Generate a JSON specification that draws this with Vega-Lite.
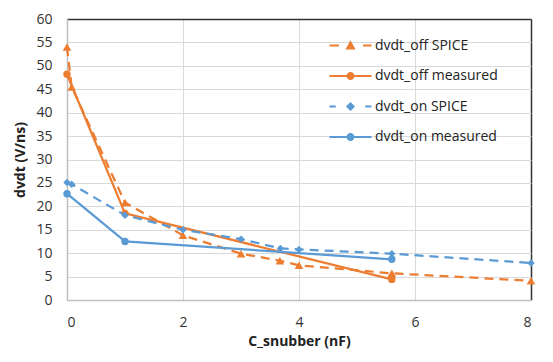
{
  "$schema": "https://vega.github.io/schema/vega-lite/v6.json",
  "width": 464,
  "height": 281,
  "autosize": {"type": "none"},
  "padding": {"left": 67, "top": 19, "right": 22, "bottom": 62},
  "background": "white",
  "config": {
    "view": {"stroke": null},
    "font": "Open Sans",
    "axis": {
      "labelFont": "Open Sans",
      "labelFontSize": 14,
      "labelColor": "#333333",
      "titleFont": "Open Sans",
      "titleFontSize": 14,
      "titleFontWeight": "bold",
      "titleColor": "#222222",
      "domainColor": "#bfbfbf",
      "domainWidth": 1.5,
      "ticks": false,
      "gridWidth": 1
    }
  },
  "data": {
    "values": [
      {"series": "dvdt_off SPICE", "C": 0, "dvdt": 54},
      {"series": "dvdt_off SPICE", "C": 0.08, "dvdt": 45.5},
      {"series": "dvdt_off SPICE", "C": 1, "dvdt": 20.8},
      {"series": "dvdt_off SPICE", "C": 2, "dvdt": 13.8},
      {"series": "dvdt_off SPICE", "C": 3, "dvdt": 9.9},
      {"series": "dvdt_off SPICE", "C": 3.67, "dvdt": 8.4},
      {"series": "dvdt_off SPICE", "C": 4, "dvdt": 7.4},
      {"series": "dvdt_off SPICE", "C": 5.6, "dvdt": 5.7},
      {"series": "dvdt_off SPICE", "C": 8, "dvdt": 4.1},
      {"series": "dvdt_off measured", "C": 0, "dvdt": 48.2},
      {"series": "dvdt_off measured", "C": 1, "dvdt": 18.5},
      {"series": "dvdt_off measured", "C": 5.6, "dvdt": 4.4},
      {"series": "dvdt_on SPICE", "C": 0, "dvdt": 25.1},
      {"series": "dvdt_on SPICE", "C": 0.08, "dvdt": 24.7},
      {"series": "dvdt_on SPICE", "C": 1, "dvdt": 18.1},
      {"series": "dvdt_on SPICE", "C": 2, "dvdt": 15.0},
      {"series": "dvdt_on SPICE", "C": 3, "dvdt": 13.0},
      {"series": "dvdt_on SPICE", "C": 3.68, "dvdt": 11.0},
      {"series": "dvdt_on SPICE", "C": 4, "dvdt": 10.8},
      {"series": "dvdt_on SPICE", "C": 5.6, "dvdt": 9.9},
      {"series": "dvdt_on SPICE", "C": 8, "dvdt": 7.9},
      {"series": "dvdt_on measured", "C": 0, "dvdt": 22.7},
      {"series": "dvdt_on measured", "C": 1, "dvdt": 12.5},
      {"series": "dvdt_on measured", "C": 5.6, "dvdt": 8.7}
    ]
  },
  "encoding": {
    "x": {
      "field": "C", "type": "quantitative",
      "scale": {"domain": [0, 8], "nice": false},
      "axis": {
        "title": "C_snubber (nF)",
        "values": [0, 2, 4, 6, 8],
        "labelPadding": 15,
        "titlePadding": 5,
        "gridColor": {"condition": {"test": "datum.value === 8", "value": "#333333"}, "value": "#d9d9d9"},
        "gridWidth": {"condition": {"test": "datum.value === 8", "value": 1.5}, "value": 1}
      }
    },
    "y": {
      "field": "dvdt", "type": "quantitative",
      "scale": {"domain": [0, 60], "nice": false},
      "axis": {
        "title": "dvdt (V/ns)",
        "values": [0, 5, 10, 15, 20, 25, 30, 35, 40, 45, 50, 55, 60],
        "labelPadding": 15,
        "titlePadding": 8,
        "gridColor": {"condition": {"test": "datum.value === 60", "value": "#333333"}, "value": "#d9d9d9"},
        "gridWidth": {"condition": {"test": "datum.value === 60", "value": 1.5}, "value": 1}
      }
    }
  },
  "layer": [
    {
      "transform": [{"filter": "datum.series == 'dvdt_off SPICE'"}],
      "mark": {"type": "line", "strokeWidth": 2.25, "color": "#ED7D31", "strokeDash": [9, 6]},
      "encoding": {}
    },
    {
      "transform": [{"filter": "datum.series == 'dvdt_off SPICE'"}],
      "mark": {"type": "point", "filled": true, "opacity": 1, "color": "#ED7D31", "shape": "triangle-up", "size": 75},
      "encoding": {}
    },
    {
      "transform": [{"filter": "datum.series == 'dvdt_off measured'"}],
      "mark": {"type": "line", "strokeWidth": 2.25, "color": "#ED7D31"},
      "encoding": {}
    },
    {
      "transform": [{"filter": "datum.series == 'dvdt_off measured'"}],
      "mark": {"type": "point", "filled": true, "opacity": 1, "color": "#ED7D31", "shape": "circle", "size": 55},
      "encoding": {}
    },
    {
      "transform": [{"filter": "datum.series == 'dvdt_on SPICE'"}],
      "mark": {"type": "line", "strokeWidth": 2.25, "color": "#5B9BD5", "strokeDash": [9, 6]},
      "encoding": {}
    },
    {
      "transform": [{"filter": "datum.series == 'dvdt_on SPICE'"}],
      "mark": {"type": "point", "filled": true, "opacity": 1, "color": "#5B9BD5", "shape": "diamond", "size": 55},
      "encoding": {}
    },
    {
      "transform": [{"filter": "datum.series == 'dvdt_on measured'"}],
      "mark": {"type": "line", "strokeWidth": 2.25, "color": "#5B9BD5"},
      "encoding": {}
    },
    {
      "transform": [{"filter": "datum.series == 'dvdt_on measured'"}],
      "mark": {"type": "point", "filled": true, "opacity": 1, "color": "#5B9BD5", "shape": "circle", "size": 55},
      "encoding": {}
    },
    {
      "mark": {"type": "point", "filled": false, "opacity": 0},
      "encoding": {
        "color": {
          "field": "series", "type": "nominal",
          "scale": {
            "domain": ["dvdt_off SPICE", "dvdt_off measured", "dvdt_on SPICE", "dvdt_on measured"],
            "range": ["#ED7D31", "#ED7D31", "#5B9BD5", "#5B9BD5"]
          },
          "legend": {
            "orient": "none",
            "legendX": 272,
            "legendY": 15,
            "title": null,
            "padding": 0,
            "symbolSize": 441,
            "symbolOpacity": 1,
            "symbolStrokeWidth": 2,
            "symbolDash": [1, 0],
            "rowPadding": 11.5,
            "labelOffset": 13,
            "labelFont": "Open Sans",
            "labelFontSize": 14,
            "labelColor": "#222222"
          }
        },
        "shape": {
          "field": "series", "type": "nominal",
          "scale": {
            "domain": ["dvdt_off SPICE", "dvdt_off measured", "dvdt_on SPICE", "dvdt_on measured"],
            "range": [
              "M-2,0H-1.1M1.2,0H2M-0.32,0.28L0,-0.3L0.32,0.28ZM-0.12,0.15L0,-0.08L0.12,0.15Z",
              "M-2,0H2M0.28,0A0.28,0.28 0 1 1 -0.28,0A0.28,0.28 0 1 1 0.28,0ZM0.1,0A0.1,0.1 0 1 1 -0.1,0A0.1,0.1 0 1 1 0.1,0Z",
              "M-2,0H-1.4M1.4,0H2M-0.3,0L0,-0.3L0.3,0L0,0.3ZM-0.1,0L0,-0.1L0.1,0L0,0.1Z",
              "M-2,0H2M0.28,0A0.28,0.28 0 1 1 -0.28,0A0.28,0.28 0 1 1 0.28,0ZM0.1,0A0.1,0.1 0 1 1 -0.1,0A0.1,0.1 0 1 1 0.1,0Z"
            ]
          }
        }
      }
    }
  ]
}
